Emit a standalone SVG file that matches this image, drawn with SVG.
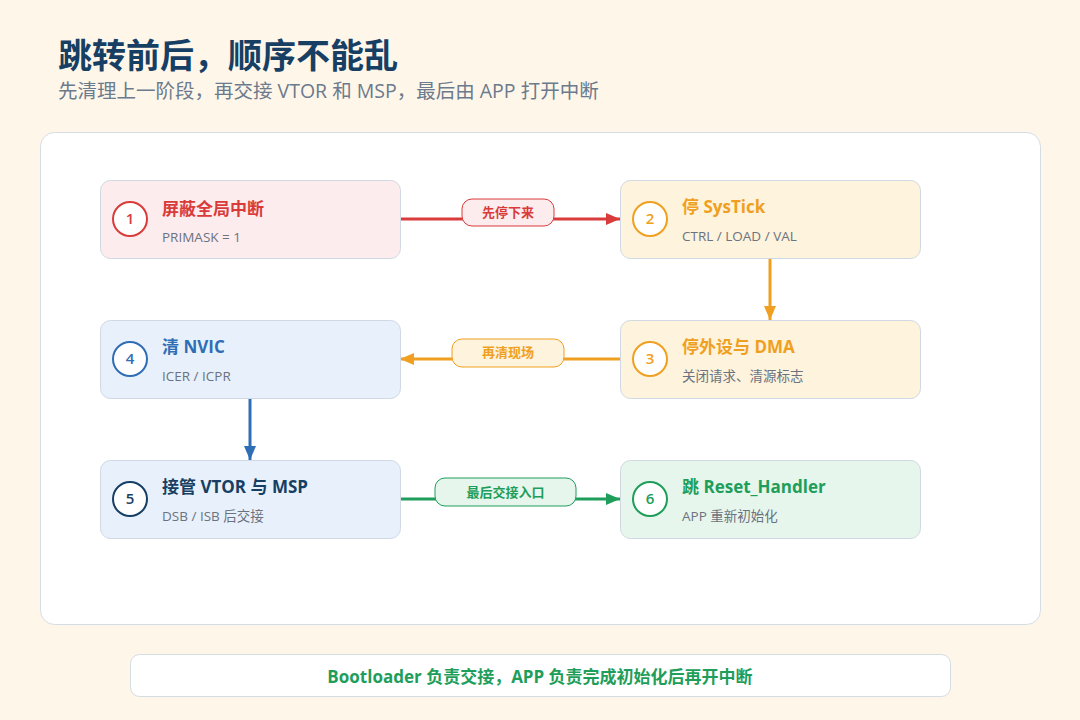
<svg xmlns="http://www.w3.org/2000/svg" width="1080" height="720" viewBox="0 0 1080 720">
<defs>
<style>
text{font-family:"Open Sans","Noto Sans CJK SC",sans-serif}
.node{stroke:#CFD8E3;stroke-width:1}
.t{font-size:17px;font-weight:700}
.s{font-size:13.5px;fill:#6B7280}
.num{font-size:15px;font-weight:600;text-anchor:middle}
.pl{font-size:13px;font-weight:700;text-anchor:middle}
.ln{fill:none;stroke-width:3}
</style>
<marker id="ar" viewBox="0 0 14 12" refX="14" refY="6" markerWidth="14" markerHeight="12" markerUnits="userSpaceOnUse" orient="auto"><path d="M0,0L14,6L0,12z" fill="#D93B3B"/></marker>
<marker id="ao" viewBox="0 0 14 12" refX="14" refY="6" markerWidth="14" markerHeight="12" markerUnits="userSpaceOnUse" orient="auto"><path d="M0,0L14,6L0,12z" fill="#F0A020"/></marker>
<marker id="ab" viewBox="0 0 14 12" refX="14" refY="6" markerWidth="14" markerHeight="12" markerUnits="userSpaceOnUse" orient="auto"><path d="M0,0L14,6L0,12z" fill="#2F6DB5"/></marker>
<marker id="ag" viewBox="0 0 14 12" refX="14" refY="6" markerWidth="14" markerHeight="12" markerUnits="userSpaceOnUse" orient="auto"><path d="M0,0L14,6L0,12z" fill="#1E9E5A"/></marker>
</defs>
<rect width="1080" height="720" fill="#FFF6EA"/>
<text x="58" y="68" font-size="34" font-weight="700" fill="#173F64">跳转前后，顺序不能乱</text>
<text x="58" y="98" font-size="19.5" fill="#6B7A8C">先清理上一阶段，再交接 VTOR 和 MSP，最后由 APP 打开中断</text>
<rect x="40.5" y="132.5" width="1000" height="492" rx="14" fill="#FFFFFF" stroke="#D5DCE4"/>

<g id="connectors">
<line class="ln" x1="400" y1="219" x2="620" y2="219" stroke="#D93B3B" marker-end="url(#ar)"/>
<rect x="462" y="199" width="92" height="27" rx="10" fill="#FDECEE" stroke="#D93B3B"/>
<text class="pl" x="508" y="217" fill="#D93B3B">先停下来</text>
<line class="ln" x1="770" y1="258" x2="770" y2="320" stroke="#F0A020" marker-end="url(#ao)"/>
<line class="ln" x1="620" y1="359" x2="400" y2="359" stroke="#F0A020" marker-end="url(#ao)"/>
<rect x="452" y="339" width="112" height="28" rx="10" fill="#FEF3DC" stroke="#F0A020"/>
<text class="pl" x="508" y="357" fill="#F0A020">再清现场</text>
<line class="ln" x1="250" y1="398" x2="250" y2="460" stroke="#2F6DB5" marker-end="url(#ab)"/>
<line class="ln" x1="400" y1="499" x2="620" y2="499" stroke="#1E9E5A" marker-end="url(#ag)"/>
<rect x="435" y="478" width="141" height="28" rx="10" fill="#E6F6EC" stroke="#1E9E5A"/>
<text class="pl" x="505.5" y="497" fill="#1E9E5A">最后交接入口</text>
</g>

<g id="node1">
<rect class="node" x="100.5" y="180.5" width="300" height="78" rx="10" fill="#FDECEE"/>
<circle cx="130" cy="219" r="17" fill="#FFFFFF" stroke="#D93B3B" stroke-width="2"/>
<text class="num" x="130" y="224" fill="#D93B3B">1</text>
<text class="t" x="162" y="215" fill="#D93B3B">屏蔽全局中断</text>
<text class="s" x="162" y="242">PRIMASK = 1</text>
</g>
<g id="node2">
<rect class="node" x="620.5" y="180.5" width="300" height="78" rx="10" fill="#FEF3DC"/>
<circle cx="650" cy="219" r="17" fill="#FFFFFF" stroke="#F0A020" stroke-width="2"/>
<text class="num" x="650" y="224" fill="#F0A020">2</text>
<text class="t" x="682" y="213" fill="#F0A020">停 SysTick</text>
<text class="s" x="682" y="241">CTRL / LOAD / VAL</text>
</g>
<g id="node3">
<rect class="node" x="620.5" y="320.5" width="300" height="78" rx="10" fill="#FEF3DC"/>
<circle cx="650" cy="359" r="17" fill="#FFFFFF" stroke="#F0A020" stroke-width="2"/>
<text class="num" x="650" y="364" fill="#F0A020">3</text>
<text class="t" x="682" y="353" fill="#F0A020">停外设与 DMA</text>
<text class="s" x="682" y="381">关闭请求、清源标志</text>
</g>
<g id="node4">
<rect class="node" x="100.5" y="320.5" width="300" height="78" rx="10" fill="#E8F1FB"/>
<circle cx="130" cy="359" r="17" fill="#FFFFFF" stroke="#2F6DB5" stroke-width="2"/>
<text class="num" x="130" y="364" fill="#2F6DB5">4</text>
<text class="t" x="162" y="353" fill="#2F6DB5">清 NVIC</text>
<text class="s" x="162" y="381">ICER / ICPR</text>
</g>
<g id="node5">
<rect class="node" x="100.5" y="460.5" width="300" height="78" rx="10" fill="#E8F1FB"/>
<circle cx="130" cy="499" r="17" fill="#FFFFFF" stroke="#173F64" stroke-width="2"/>
<text class="num" x="130" y="504" fill="#173F64">5</text>
<text class="t" x="162" y="493" fill="#173F64">接管 VTOR 与 MSP</text>
<text class="s" x="162" y="521">DSB / ISB 后交接</text>
</g>
<g id="node6">
<rect class="node" x="620.5" y="460.5" width="300" height="78" rx="10" fill="#E6F6EC"/>
<circle cx="650" cy="499" r="17" fill="#FFFFFF" stroke="#1E9E5A" stroke-width="2"/>
<text class="num" x="650" y="504" fill="#1E9E5A">6</text>
<text class="t" x="682" y="493" fill="#1E9E5A">跳 Reset_Handler</text>
<text class="s" x="682" y="521">APP 重新初始化</text>
</g>

<g id="footer">
<rect x="130.5" y="654.5" width="820" height="42" rx="9" fill="#FFFFFF" stroke="#D5DCE4"/>
<text x="540" y="683" font-size="17" font-weight="700" fill="#1E9E5A" text-anchor="middle">Bootloader 负责交接，APP 负责完成初始化后再开中断</text>
</g>
</svg>
